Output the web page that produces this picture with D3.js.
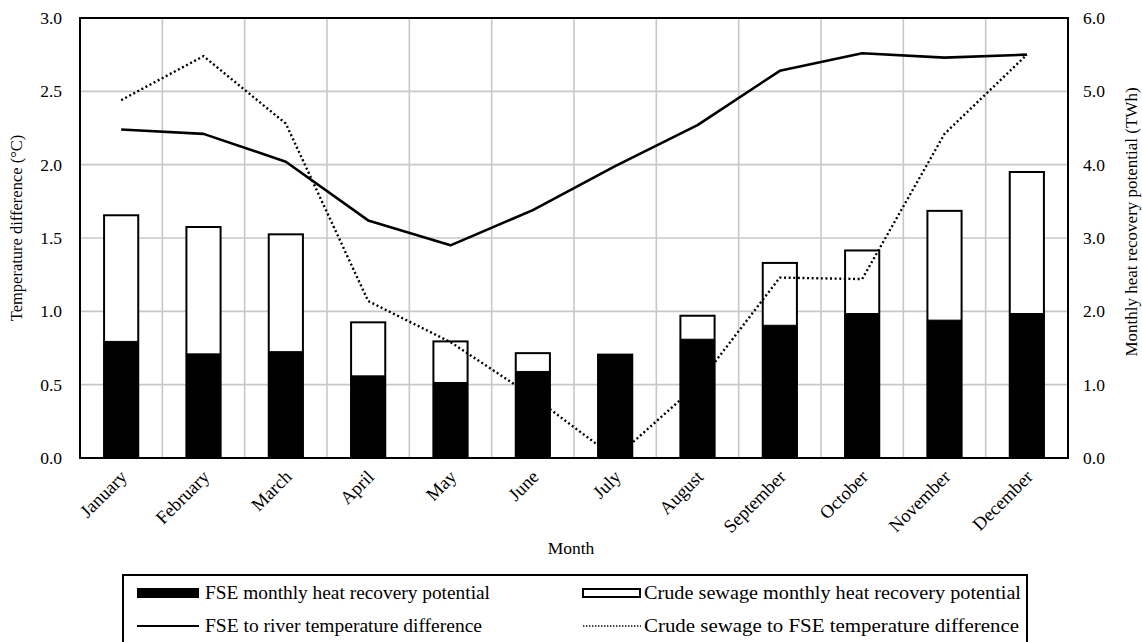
<!DOCTYPE html>
<html>
<head>
<meta charset="utf-8">
<script src="https://cdn.jsdelivr.net/npm/d3@7"></script>
<style>
  html, body { margin: 0; padding: 0; background: #fff; }
  svg { display: block; }
  text { font-family: "Liberation Serif", "Times New Roman", serif; fill: #000; }
</style>
</head>
<body>
<svg id="chart" width="1142" height="642"></svg>
<script>
const months = ["January","February","March","April","May","June","July","August","September","October","November","December"];
const fseHeat = [1.59, 1.42, 1.45, 1.12, 1.03, 1.18, 1.41, 1.62, 1.81, 1.97, 1.88, 1.97];
const crudeHeat = [3.31, 3.15, 3.05, 1.85, 1.59, 1.43, 1.41, 1.94, 2.66, 2.83, 3.37, 3.90];
const fseRiverDiff = [2.24, 2.21, 2.02, 1.62, 1.45, 1.69, 1.99, 2.27, 2.64, 2.76, 2.73, 2.75];
const crudeFseDiff = [2.44, 2.74, 2.28, 1.07, 0.79, 0.42, 0.0, 0.50, 1.23, 1.22, 2.21, 2.75];
const leftTicks = [0, 0.5, 1.0, 1.5, 2.0, 2.5, 3.0];
const rightTicks = [0, 1, 2, 3, 4, 5, 6];
const legendLabels = ["FSE monthly heat recovery potential", "Crude sewage monthly heat recovery potential",
                      "FSE to river temperature difference", "Crude sewage to FSE temperature difference"];

const svg = d3.select("#chart");
const L = 80, R = 1068, T = 18, B = 458;

const x = d3.scaleBand().domain(months).range([L, R]).paddingInner(0.585).paddingOuter(0.2925);
const xc = d3.scaleBand().domain(months).range([L, R]);
const yL = d3.scaleLinear().domain([0, 3]).range([B, T]);
const yR = d3.scaleLinear().domain([0, 6]).range([B, T]);

// gridlines
const grid = svg.append("g");
grid.selectAll("line.h").data(leftTicks.slice(1, -1)).enter().append("line")
  .attr("x1", L).attr("x2", R).attr("y1", d => yL(d)).attr("y2", d => yL(d))
  .attr("stroke", "#c8c8c8").attr("stroke-width", 1.6);
grid.selectAll("line.v").data(months.slice(1)).enter().append("line")
  .attr("x1", d => xc(d)).attr("x2", d => xc(d)).attr("y1", T).attr("y2", B)
  .attr("stroke", "#c8c8c8").attr("stroke-width", 1.6);

// bars
const bars = svg.append("g");
bars.selectAll("rect.crude").data(months).enter().append("rect")
  .attr("x", d => x(d)).attr("width", x.bandwidth())
  .attr("y", (d, i) => yR(crudeHeat[i])).attr("height", (d, i) => B - yR(crudeHeat[i]))
  .attr("fill", "#fff").attr("stroke", "#000").attr("stroke-width", 2);
bars.selectAll("rect.fse").data(months).enter().append("rect")
  .attr("x", d => x(d)).attr("width", x.bandwidth())
  .attr("y", (d, i) => yR(fseHeat[i])).attr("height", (d, i) => B - yR(fseHeat[i]))
  .attr("fill", "#000").attr("stroke", "#000").attr("stroke-width", 1);

// lines
const cx = d => xc(d) + xc.bandwidth() / 2;
const solid = d3.line().x((d, i) => cx(months[i])).y(d => yL(d));
svg.append("path").datum(fseRiverDiff).attr("d", solid)
  .attr("fill", "none").attr("stroke", "#000").attr("stroke-width", 2.6).attr("stroke-linejoin", "round");
svg.append("path").datum(crudeFseDiff).attr("d", solid)
  .attr("fill", "none").attr("stroke", "#000").attr("stroke-width", 2.4)
  .attr("stroke-dasharray", "2,2.6");

// frame
svg.append("rect").attr("x", L).attr("y", T).attr("width", R - L).attr("height", B - T)
  .attr("fill", "none").attr("stroke", "#000").attr("stroke-width", 2);

// axes
const axL = svg.append("g").attr("transform", `translate(${L},0)`)
  .call(d3.axisLeft(yL).tickValues(leftTicks).tickFormat(d3.format(".1f")).tickSize(0).tickPadding(18));
axL.select(".domain").remove();
axL.selectAll("text").attr("font-size", 17.5);

const axR = svg.append("g").attr("transform", `translate(${R},0)`)
  .call(d3.axisRight(yR).tickValues(rightTicks).tickFormat(d3.format(".1f")).tickSize(0).tickPadding(15));
axR.select(".domain").remove();
axR.selectAll("text").attr("font-size", 17.5);

const axB = svg.append("g").attr("transform", `translate(0,${B})`)
  .call(d3.axisBottom(xc).tickSize(0).tickPadding(0));
axB.select(".domain").remove();
axB.selectAll("text")
  .attr("font-size", 18.5)
  .attr("text-anchor", "end").attr("dy", 0).attr("y", 0)
  .attr("transform", "translate(7,20) rotate(-45)");

// axis titles
svg.append("text").attr("transform", "translate(22,228) rotate(-90)")
  .attr("text-anchor", "middle").attr("font-size", 16.5).text("Temperature difference (°C)");
svg.append("text").attr("transform", "translate(1137,222) rotate(-90)")
  .attr("text-anchor", "middle").attr("font-size", 17).text("Monthly heat recovery potential (TWh)");
svg.append("text").attr("x", 571).attr("y", 554).attr("text-anchor", "middle")
  .attr("font-size", 17.5).text("Month");

// legend
const lg = svg.append("g");
lg.append("rect").attr("x", 123).attr("y", 575).attr("width", 904).attr("height", 80)
  .attr("fill", "#fff").attr("stroke", "#000").attr("stroke-width", 2);
const cols = [137, 583];
const rows = [593, 626];
lg.append("rect").attr("x", cols[0]).attr("y", rows[0] - 5).attr("width", 62).attr("height", 10).attr("fill", "#000");
lg.append("rect").attr("x", cols[1]).attr("y", rows[0] - 4).attr("width", 57).attr("height", 8)
  .attr("fill", "#fff").attr("stroke", "#000").attr("stroke-width", 2);
lg.append("line").attr("x1", cols[0]).attr("x2", cols[0] + 62).attr("y1", rows[1]).attr("y2", rows[1])
  .attr("stroke", "#000").attr("stroke-width", 2.2);
lg.append("line").attr("x1", cols[1]).attr("x2", cols[1] + 58).attr("y1", rows[1]).attr("y2", rows[1])
  .attr("stroke", "#000").attr("stroke-width", 1.6).attr("stroke-dasharray", "1.4,1.6");
const textPos = [[205, rows[0]], [644, rows[0]], [205, rows[1]], [644, rows[1]]];
const textLen = [285, 377, 277, 375];
lg.selectAll("text.lg").data(legendLabels).enter().append("text")
  .attr("x", (d, i) => textPos[i][0]).attr("y", (d, i) => textPos[i][1] + 6)
  .attr("font-size", 18).attr("textLength", (d, i) => textLen[i]).attr("lengthAdjust", "spacingAndGlyphs")
  .text(d => d);
</script>
</body>
</html>
